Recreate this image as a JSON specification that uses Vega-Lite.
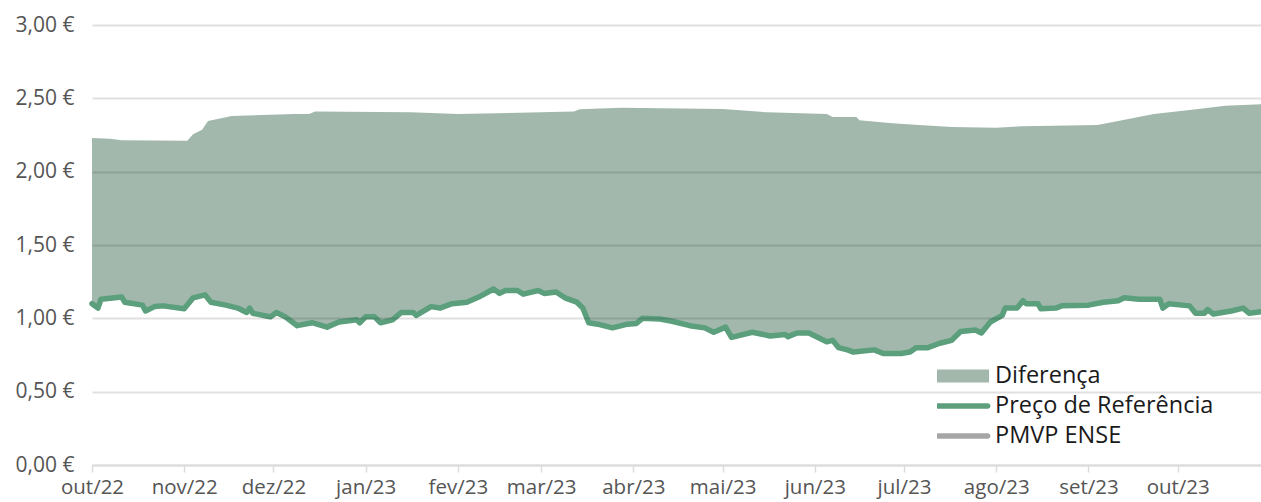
{
  "$schema": "https://vega.github.io/schema/vega-lite/v6.json",
  "width": 1169,
  "height": 440,
  "autosize": {"type": "none"},
  "padding": {"left": 92, "top": 25, "right": 0, "bottom": 37},
  "datasets": {
    "ref": [
      {"date": "2022-10-01", "value": 1.10},
      {"date": "2022-10-03", "value": 1.07},
      {"date": "2022-10-04", "value": 1.13},
      {"date": "2022-10-11", "value": 1.145},
      {"date": "2022-10-12", "value": 1.11},
      {"date": "2022-10-18", "value": 1.09},
      {"date": "2022-10-19", "value": 1.05},
      {"date": "2022-10-22", "value": 1.08},
      {"date": "2022-10-25", "value": 1.085},
      {"date": "2022-11-01", "value": 1.065},
      {"date": "2022-11-04", "value": 1.14},
      {"date": "2022-11-08", "value": 1.16},
      {"date": "2022-11-10", "value": 1.11},
      {"date": "2022-11-15", "value": 1.09},
      {"date": "2022-11-19", "value": 1.07},
      {"date": "2022-11-22", "value": 1.04},
      {"date": "2022-11-23", "value": 1.07},
      {"date": "2022-11-24", "value": 1.035},
      {"date": "2022-11-30", "value": 1.01},
      {"date": "2022-12-02", "value": 1.04},
      {"date": "2022-12-05", "value": 1.01},
      {"date": "2022-12-09", "value": 0.95},
      {"date": "2022-12-14", "value": 0.97},
      {"date": "2022-12-19", "value": 0.94},
      {"date": "2022-12-23", "value": 0.975},
      {"date": "2022-12-29", "value": 0.99},
      {"date": "2022-12-30", "value": 0.97},
      {"date": "2023-01-01", "value": 1.01},
      {"date": "2023-01-04", "value": 1.01},
      {"date": "2023-01-06", "value": 0.97},
      {"date": "2023-01-10", "value": 0.99},
      {"date": "2023-01-13", "value": 1.04},
      {"date": "2023-01-17", "value": 1.04},
      {"date": "2023-01-18", "value": 1.02},
      {"date": "2023-01-23", "value": 1.08},
      {"date": "2023-01-26", "value": 1.07},
      {"date": "2023-01-30", "value": 1.10},
      {"date": "2023-02-04", "value": 1.11},
      {"date": "2023-02-08", "value": 1.145},
      {"date": "2023-02-13", "value": 1.20},
      {"date": "2023-02-15", "value": 1.17},
      {"date": "2023-02-17", "value": 1.19},
      {"date": "2023-02-21", "value": 1.19},
      {"date": "2023-02-23", "value": 1.165},
      {"date": "2023-02-28", "value": 1.19},
      {"date": "2023-03-02", "value": 1.17},
      {"date": "2023-03-06", "value": 1.18},
      {"date": "2023-03-09", "value": 1.14},
      {"date": "2023-03-13", "value": 1.11},
      {"date": "2023-03-15", "value": 1.07},
      {"date": "2023-03-17", "value": 0.97},
      {"date": "2023-03-20", "value": 0.96},
      {"date": "2023-03-25", "value": 0.935},
      {"date": "2023-03-30", "value": 0.96},
      {"date": "2023-04-02", "value": 0.965},
      {"date": "2023-04-04", "value": 1.00},
      {"date": "2023-04-10", "value": 0.995},
      {"date": "2023-04-14", "value": 0.98},
      {"date": "2023-04-20", "value": 0.95},
      {"date": "2023-04-25", "value": 0.935},
      {"date": "2023-04-28", "value": 0.905},
      {"date": "2023-05-02", "value": 0.94},
      {"date": "2023-05-04", "value": 0.87},
      {"date": "2023-05-11", "value": 0.905},
      {"date": "2023-05-17", "value": 0.88},
      {"date": "2023-05-22", "value": 0.89},
      {"date": "2023-05-23", "value": 0.875},
      {"date": "2023-05-26", "value": 0.90},
      {"date": "2023-05-30", "value": 0.90},
      {"date": "2023-06-05", "value": 0.84},
      {"date": "2023-06-07", "value": 0.85},
      {"date": "2023-06-09", "value": 0.80},
      {"date": "2023-06-12", "value": 0.785},
      {"date": "2023-06-14", "value": 0.77},
      {"date": "2023-06-21", "value": 0.785},
      {"date": "2023-06-24", "value": 0.76},
      {"date": "2023-06-30", "value": 0.76},
      {"date": "2023-07-03", "value": 0.77},
      {"date": "2023-07-05", "value": 0.80},
      {"date": "2023-07-09", "value": 0.80},
      {"date": "2023-07-13", "value": 0.83},
      {"date": "2023-07-17", "value": 0.85},
      {"date": "2023-07-20", "value": 0.91},
      {"date": "2023-07-25", "value": 0.92},
      {"date": "2023-07-27", "value": 0.90},
      {"date": "2023-07-30", "value": 0.975},
      {"date": "2023-08-03", "value": 1.02},
      {"date": "2023-08-04", "value": 1.07},
      {"date": "2023-08-08", "value": 1.07},
      {"date": "2023-08-10", "value": 1.12},
      {"date": "2023-08-11", "value": 1.10},
      {"date": "2023-08-15", "value": 1.10},
      {"date": "2023-08-16", "value": 1.065},
      {"date": "2023-08-21", "value": 1.07},
      {"date": "2023-08-23", "value": 1.085},
      {"date": "2023-09-01", "value": 1.09},
      {"date": "2023-09-06", "value": 1.11},
      {"date": "2023-09-11", "value": 1.12},
      {"date": "2023-09-13", "value": 1.14},
      {"date": "2023-09-18", "value": 1.13},
      {"date": "2023-09-25", "value": 1.13},
      {"date": "2023-09-26", "value": 1.07},
      {"date": "2023-09-28", "value": 1.10},
      {"date": "2023-10-05", "value": 1.085},
      {"date": "2023-10-07", "value": 1.035},
      {"date": "2023-10-10", "value": 1.035},
      {"date": "2023-10-11", "value": 1.06},
      {"date": "2023-10-13", "value": 1.03},
      {"date": "2023-10-19", "value": 1.05},
      {"date": "2023-10-23", "value": 1.07},
      {"date": "2023-10-25", "value": 1.035},
      {"date": "2023-10-29", "value": 1.045}
    ],
    "pmvp": [
      {"date": "2022-10-01", "value": 2.23},
      {"date": "2022-10-07", "value": 2.225},
      {"date": "2022-10-11", "value": 2.215},
      {"date": "2022-11-02", "value": 2.21},
      {"date": "2022-11-04", "value": 2.255},
      {"date": "2022-11-07", "value": 2.285},
      {"date": "2022-11-09", "value": 2.345},
      {"date": "2022-11-17", "value": 2.38},
      {"date": "2022-12-08", "value": 2.393},
      {"date": "2022-12-13", "value": 2.393},
      {"date": "2022-12-15", "value": 2.41},
      {"date": "2023-01-16", "value": 2.405},
      {"date": "2023-02-01", "value": 2.393},
      {"date": "2023-03-12", "value": 2.41},
      {"date": "2023-03-14", "value": 2.425},
      {"date": "2023-03-28", "value": 2.435},
      {"date": "2023-05-01", "value": 2.427},
      {"date": "2023-05-16", "value": 2.405},
      {"date": "2023-06-05", "value": 2.393},
      {"date": "2023-06-07", "value": 2.373},
      {"date": "2023-06-15", "value": 2.373},
      {"date": "2023-06-16", "value": 2.35},
      {"date": "2023-06-27", "value": 2.33},
      {"date": "2023-07-06", "value": 2.318},
      {"date": "2023-07-17", "value": 2.305},
      {"date": "2023-08-01", "value": 2.30},
      {"date": "2023-08-10", "value": 2.31},
      {"date": "2023-09-04", "value": 2.318},
      {"date": "2023-09-11", "value": 2.345},
      {"date": "2023-09-23", "value": 2.393},
      {"date": "2023-10-05", "value": 2.42},
      {"date": "2023-10-17", "value": 2.45},
      {"date": "2023-10-29", "value": 2.46}
    ]
  },
  "encoding": {
    "x": {
      "field": "date",
      "type": "temporal",
      "title": null,
      "scale": {
        "type": "utc",
        "domain": [
          {"year": 2022, "month": 10, "date": 1, "utc": true},
          {"year": 2023, "month": 10, "date": 29, "utc": true}
        ]
      },
      "axis": {
        "zindex": 1,
        "grid": false,
        "tickCount": {"interval": "month", "step": 1},
        "labelExpr": "['jan','fev','mar','abr','mai','jun','jul','ago','set','out','nov','dez'][utcmonth(datum.value)] + '/' + utcFormat(datum.value, '%y')",
        "labelFlush": false,
        "labelOverlap": false,
        "domainColor": "#dcdcdc",
        "domainWidth": 2,
        "tickColor": "#dcdcdc",
        "tickWidth": 1.5,
        "tickSize": 7,
        "labelPadding": 5,
        "labelFontSize": 20.5,
        "labelColor": "#555555",
        "labelFont": "Open Sans"
      }
    },
    "y": {
      "field": "value",
      "type": "quantitative",
      "title": null,
      "scale": {"domain": [0, 3], "nice": false, "zero": true},
      "axis": {
        "zindex": 1,
        "values": [0, 0.5, 1, 1.5, 2, 2.5, 3],
        "labelExpr": "replace(format(datum.value, '.2f'), '.', ',') + ' €'",
        "domain": false,
        "ticks": false,
        "labelPadding": 18,
        "labelFontSize": 21,
        "labelColor": "#555555",
        "labelFont": "Open Sans",
        "gridColor": "#000000",
        "gridOpacity": 0.12,
        "gridWidth": 2
      }
    }
  },
  "layer": [
    {
      "data": {"name": "pmvp"},
      "mark": {"type": "area", "opacity": 1, "interpolate": "linear"},
      "encoding": {
        "color": {
          "datum": "Diferença",
          "type": "nominal",
          "scale": {
            "domain": ["Diferença", "Preço de Referência", "PMVP ENSE"],
            "range": ["#a2b8ad", "#5b9f7d", "#a6a6a6"]
          },
          "legend": {
            "title": null,
            "orient": "none",
            "legendX": 845,
            "legendY": 336,
            "padding": 0,
            "clipHeight": 30,
            "rowPadding": 0,
            "symbolSize": 2704,
            "symbolStrokeWidth": 0,
            "symbolOffset": 0,
            "symbolType": {"expr": "datum.value === 'Diferença' ? 'M-1,-0.25H1V0.25H-1Z' : 'M-0.95,-0.105H0.95A0.105,0.105 0 0 1 0.95,0.105H-0.95A0.105,0.105 0 0 1 -0.95,-0.105Z'"},
            "labelOffset": 6,
            "labelFontSize": 23.5,
            "labelFont": "Open Sans",
            "labelColor": "#1a1a1a",
            "labelLimit": 400
          }
        }
      }
    },
    {
      "data": {"name": "ref"},
      "mark": {"type": "area", "color": "#ffffff", "opacity": 1, "interpolate": "linear"},
      "encoding": {}
    },
    {
      "data": {"name": "ref"},
      "mark": {"type": "line", "strokeWidth": 5.5, "strokeJoin": "round", "strokeCap": "round"},
      "encoding": {
        "color": {"datum": "Preço de Referência", "type": "nominal"}
      }
    }
  ],
  "config": {
    "view": {"stroke": null},
    "font": "Open Sans"
  }
}
